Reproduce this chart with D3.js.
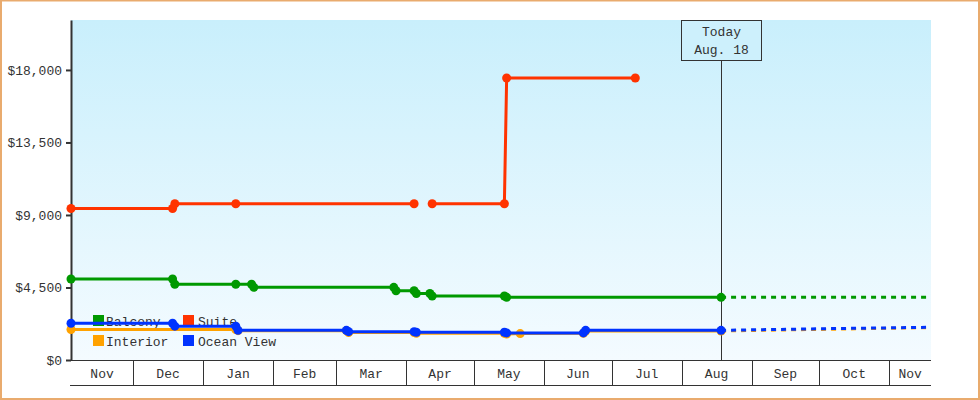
<!DOCTYPE html>
<html>
<head>
<meta charset="utf-8">
<script src="https://d3js.org/d3.v7.min.js"></script>
<style>
  body { margin: 0; background: #fff; }
  svg { display: block; }
  text { font-family: "Liberation Mono", "DejaVu Sans Mono", monospace; font-size: 13px; fill: #333; }
</style>
</head>
<body>
<div id="chart"></div>
<script>
// Data (prices in $, one point per price change)
var interiorDates = ["2012-11-03", "2013-01-15", "2013-01-16", "2013-03-05", "2013-03-06", "2013-04-04", "2013-04-05",
  "2013-05-14", "2013-05-15", "2013-05-21", "2013-06-18", "2013-06-19", "2013-08-18"];
var interiorPrices = [1890, 1890, 1820, 1820, 1700, 1700, 1660, 1660, 1610, 1640, 1660, 1800, 1800];

var balconyDates = ["2012-11-03", "2012-12-18", "2012-12-19", "2013-01-15", "2013-01-22", "2013-01-23", "2013-03-26",
  "2013-03-27", "2013-04-04", "2013-04-05", "2013-04-11", "2013-04-12", "2013-05-14", "2013-05-15", "2013-08-18"];
var balconyPrices = [5030, 5030, 4700, 4700, 4700, 4510, 4510, 4300, 4300, 4130, 4130, 3970, 3970, 3890, 3890];

// null = no price for that period (gap in the line)
var suiteDates = ["2012-11-03", "2012-12-18", "2012-12-19", "2013-01-15", "2013-04-04", "2013-04-08", "2013-04-12",
  "2013-05-14", "2013-05-15", "2013-07-11"];
var suitePrices = [9400, 9400, 9700, 9700, 9700, null, 9700, 9700, 17500, 17500];

var oceanDates = ["2012-11-03", "2012-12-18", "2012-12-19", "2013-01-15", "2013-01-16", "2013-03-05", "2013-03-06",
  "2013-04-04", "2013-04-05", "2013-05-14", "2013-05-15", "2013-06-18", "2013-06-19", "2013-08-18"];
var oceanPrices = [2280, 2280, 2100, 2100, 1840, 1840, 1760, 1760, 1720, 1720, 1680, 1680, 1840, 1840];

// forecast after today
var interiorForecastDates = ["2013-08-18", "2013-11-19"];
var interiorForecast = [1800, 2010];
var balconyForecastDates = ["2013-08-18", "2013-11-19"];
var balconyForecast = [3890, 3890];
var oceanForecastDates = ["2013-08-18", "2013-10-01", "2013-11-19"];
var oceanForecast = [1840, 1940, 2030];

var seriesNames = ["Interior", "Balcony", "Suite", "Ocean View"];
var legendOrder = ["Balcony", "Suite", "Interior", "Ocean View"];
var yTicks = [0, 4500, 9000, 13500, 18000];
var yMax = 21100;
var todayDate = "2013-08-18";
var todayLabel = ["Today", "Aug. 18"];

var colors = {
  "Interior": "#ffa200",
  "Balcony": "#009900",
  "Suite": "#ff3300",
  "Ocean View": "#0033ff"
};

// Set up our chart
var svgWidth = 980;
var svgHeight = 400;
var margin = { top: 20, right: 49, bottom: 40, left: 71 };
var width = svgWidth - margin.left - margin.right;
var height = svgHeight - margin.top - margin.bottom;

var parseDay = d3.utcParse("%Y-%m-%d");
// prices are plotted at midday
function toDate(s) { return d3.utcHour.offset(parseDay(s), 12); }

function makeSeries(dates, prices) {
  return dates.map(function(d, i) { return { date: toDate(d), value: prices[i] }; });
}

var series = {
  "Interior": { solid: makeSeries(interiorDates, interiorPrices), forecast: makeSeries(interiorForecastDates, interiorForecast) },
  "Balcony": { solid: makeSeries(balconyDates, balconyPrices), forecast: makeSeries(balconyForecastDates, balconyForecast) },
  "Suite": { solid: makeSeries(suiteDates, suitePrices), forecast: [] },
  "Ocean View": { solid: makeSeries(oceanDates, oceanPrices), forecast: makeSeries(oceanForecastDates, oceanForecast) }
};

var allDates = [];
seriesNames.forEach(function(n) {
  series[n].solid.concat(series[n].forecast).forEach(function(p) { allDates.push(p.date); });
});

var svg = d3.select("#chart")
  .append("svg")
  .attr("width", svgWidth)
  .attr("height", svgHeight);

// gradient background for the plot
var defs = svg.append("defs");
var grad = defs.append("linearGradient")
  .attr("id", "bg")
  .attr("x1", 0).attr("y1", 0).attr("x2", 0).attr("y2", 1);
grad.append("stop").attr("offset", "0%").attr("stop-color", "#c9effc");
grad.append("stop").attr("offset", "100%").attr("stop-color", "#f4fbff");

// outer border
svg.append("rect")
  .attr("x", 1).attr("y", 0.5)
  .attr("width", svgWidth - 2).attr("height", svgHeight - 1.5)
  .attr("fill", "none")
  .attr("stroke", "#e9ab6e")
  .attr("stroke-width", 2);

var chartGroup = svg.append("g")
  .attr("transform", `translate(${margin.left}, ${margin.top})`);

var xScale = d3.scaleUtc()
  .domain(d3.extent(allDates))
  .range([0, width]);

var yScale = d3.scaleLinear()
  .domain([0, yMax])
  .range([height, 0]);

chartGroup.append("rect")
  .attr("width", width)
  .attr("height", height)
  .attr("fill", "url(#bg)");

// month bands under the plot
var x0 = xScale.domain()[0], x1 = xScale.domain()[1];
var monthStarts = d3.utcMonth.range(d3.utcMonth.ceil(x0), x1);

var bottomAxis = d3.axisBottom(xScale)
  .tickValues(monthStarts)
  .tickSize(25)
  .tickSizeOuter(0)
  .tickFormat("");

var xAxis = chartGroup.append("g")
  .attr("transform", `translate(0, ${height})`)
  .call(bottomAxis);
xAxis.select(".domain").remove();
xAxis.selectAll("line").attr("stroke", "#333").attr("shape-rendering", "crispEdges");

chartGroup.append("line")
  .attr("x1", -1).attr("x2", width)
  .attr("y1", height + 0.5).attr("y2", height + 0.5)
  .attr("stroke", "#333");
chartGroup.append("line")
  .attr("x1", -1).attr("x2", width)
  .attr("y1", height + 25.5).attr("y2", height + 25.5)
  .attr("stroke", "#333");

var months = d3.utcMonth.range(d3.utcMonth.floor(x0), x1);
chartGroup.append("g")
  .selectAll("text")
  .data(months)
  .enter()
  .append("text")
  .attr("x", function(m) {
    var a = m < x0 ? x0 : m;
    var b = d3.utcMonth.offset(m, 1);
    if (b > x1) b = x1;
    return (xScale(a) + xScale(b)) / 2;
  })
  .attr("y", height + 18)
  .attr("text-anchor", "middle")
  .text(d3.utcFormat("%b"));

// y axis
var leftAxis = d3.axisLeft(yScale)
  .tickValues(yTicks)
  .tickSize(5)
  .tickSizeOuter(0)
  .tickFormat(function(d) { return "$" + d3.format(",")(d); });

var yAxis = chartGroup.append("g")
  .call(leftAxis);
yAxis.select(".domain").attr("stroke", "#333").attr("stroke-width", 2);
yAxis.selectAll(".tick line").attr("stroke", "#333").attr("stroke-width", 2);
yAxis.selectAll(".tick text")
  .attr("x", -9)
  .attr("fill", "#333")
  .style("font-family", '"Liberation Mono", "DejaVu Sans Mono", monospace')
  .style("font-size", "13px");

// legend (drawn under the lines)
var legend = chartGroup.append("g");
legendOrder.forEach(function(name, i) {
  var col = i % 2, row = Math.floor(i / 2);
  var lx = 22 + col * 90, ly = 295 + row * 20;
  legend.append("rect")
    .attr("x", lx).attr("y", ly)
    .attr("width", 11).attr("height", 11)
    .attr("fill", colors[name]);
  legend.append("text")
    .attr("x", lx + 13 + col * 2)
    .attr("y", ly + 11)
    .text(name);
});

// today marker
var todayX = xScale(toDate(todayDate));
chartGroup.append("line")
  .attr("x1", Math.round(todayX) + 0.5).attr("x2", Math.round(todayX) + 0.5)
  .attr("y1", 40).attr("y2", height)
  .attr("stroke", "#333");
chartGroup.append("rect")
  .attr("x", Math.round(todayX) - 39.5).attr("y", 0.5)
  .attr("width", 80).attr("height", 40)
  .attr("fill", "#cdf0fc")
  .attr("stroke", "#333");
todayLabel.forEach(function(t, i) {
  chartGroup.append("text")
    .attr("x", Math.round(todayX) + 0.5)
    .attr("y", 16 + i * 18)
    .attr("text-anchor", "middle")
    .text(t);
});

// lines
var line = d3.line()
  .defined(function(d) { return d.value !== null; })
  .x(function(d) { return xScale(d.date); })
  .y(function(d) { return yScale(d.value); });

seriesNames.forEach(function(name) {
  var s = series[name];
  var g = chartGroup.append("g");

  if (s.forecast.length) {
    g.append("path")
      .datum(s.forecast)
      .attr("d", line)
      .attr("fill", "none")
      .attr("stroke", colors[name])
      .attr("stroke-width", 3)
      .attr("stroke-dasharray", "5,5");
  }

  g.append("path")
    .datum(s.solid)
    .attr("d", line)
    .attr("fill", "none")
    .attr("stroke", colors[name])
    .attr("stroke-width", 3);

  g.selectAll("circle")
    .data(s.solid.filter(function(d) { return d.value !== null; }))
    .enter()
    .append("circle")
    .attr("cx", function(d) { return xScale(d.date); })
    .attr("cy", function(d) { return yScale(d.value); })
    .attr("r", 4.5)
    .attr("fill", colors[name]);
});
</script>
</body>
</html>
